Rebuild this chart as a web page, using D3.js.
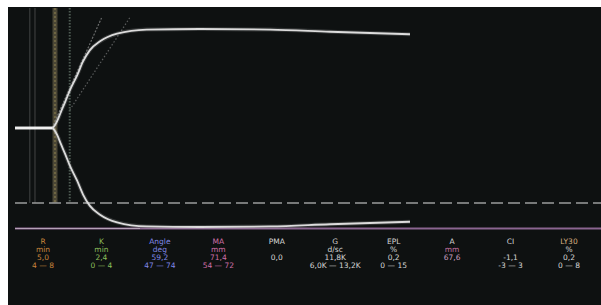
<!DOCTYPE html>
<html><head><meta charset="utf-8">
<script src="https://cdn.jsdelivr.net/npm/d3@7"></script>
<style>html,body{margin:0;padding:0;background:#fff;}svg{display:block;}</style>
</head><body>
<script>
// ---- data ----
const times = [0, 5.0, 5.7, 6.2, 6.8, 7.4, 8.4, 9.2, 10.1, 11.5, 13.8, 17.8, 25, 34.5, 42.6, 53.4]; // min
const amps  = [0, 0,   5,  11.5, 19, 27,  38,  48,  56,  62.5, 68,  71,  71.4, 71, 69.4, 67.6]; // mm
const markerTimes = [2.0, 2.7, 5.0, 7.4];
const markerKinds = ["grid", "grid", "R", "K"];
const tangentA = [[5.0, 0], [11.7, 79.4]];
const tangentB = [[7.4, 13], [15.5, 79.4]];
const columns = ["R", "K", "Angle", "MA", "PMA", "G", "EPL", "A", "CI", "LY30"];
const units   = ["min", "min", "deg", "mm", "", "d/sc", "%", "mm", "", "%"];
const values  = ["5,0", "2,4", "59,2", "71,4", "0,0", "11,8K", "0,2", "67,6", "-1,1", "0,2"];
const ranges  = ["4 — 8", "0 — 4", "47 — 74", "54 — 72", "", "6,0K — 13,2K", "0 — 15", "", "-3 — 3", "0 — 8"];

const W = 601, H = 305;
const svg = d3.select("body").append("svg").attr("width", W).attr("height", H);
svg.append("rect").attr("x", 8).attr("y", 7).attr("width", W - 8).attr("height", H - 7).attr("fill", "#0e1111");

const x = d3.scaleLinear().domain([0, 53.4]).range([15, 410]);
const yUp = d3.scaleLinear().domain([0, 71.4]).range([128, 29]);
const yDn = d3.scaleLinear().domain([0, 71.4]).range([128, 227]);

// vertical marker lines
const mk = markerTimes.map((t, i) => ({t, k: markerKinds[i]}));
const mg = svg.append("g");
mk.forEach(d => {
  const xx = x(d.t);
  if (d.k === "grid") {
    mg.append("line").attr("x1", xx).attr("x2", xx).attr("y1", 8).attr("y2", 203)
      .attr("stroke", "#3a3c3c").attr("stroke-width", 1.2);
  } else if (d.k === "R") {
    mg.append("line").attr("x1", xx + 3).attr("x2", xx + 3).attr("y1", 8).attr("y2", 203)
      .attr("stroke", "#4a4636").attr("stroke-width", 5);
    mg.append("line").attr("x1", xx + 3).attr("x2", xx + 3).attr("y1", 8).attr("y2", 203)
      .attr("stroke", "#7a7048").attr("stroke-width", 1.5).attr("stroke-dasharray", "2,2");
  } else {
    mg.append("line").attr("x1", xx).attr("x2", xx).attr("y1", 8).attr("y2", 203)
      .attr("stroke", "#4d5a52").attr("stroke-width", 2).attr("stroke-dasharray", "1.5,1.5");
  }
});

// dashed reference line
svg.append("line").attr("x1", 15).attr("x2", W).attr("y1", 203).attr("y2", 203)
  .attr("stroke", "#9a9c9c").attr("stroke-width", 1.5).attr("stroke-dasharray", "12,5");

// purple baseline
svg.append("line").attr("x1", 15).attr("x2", W).attr("y1", 228.5).attr("y2", 228.5)
  .attr("stroke", "#8a6590").attr("stroke-width", 2.2);
svg.append("line").attr("x1", 15).attr("x2", 140).attr("y1", 228.5).attr("y2", 228.5)
  .attr("stroke", "#c8bcc8").attr("stroke-width", 1.2).attr("opacity", 0.7);

// tangent dotted lines
const tl = d3.line().x(d => x(d[0])).y(d => yUp(d[1]));
svg.append("path").attr("d", tl(tangentA)).attr("fill", "none")
  .attr("stroke", "#6a6c6c").attr("stroke-width", 1.2).attr("stroke-dasharray", "2,1.5");
svg.append("path").attr("d", tl(tangentB)).attr("fill", "none")
  .attr("stroke", "#5a5c5c").attr("stroke-width", 1.2).attr("stroke-dasharray", "1.5,2");

// trace
const pts = times.map((t, i) => [t, amps[i]]);
const upper = d3.line().x(d => x(d[0])).y(d => yUp(d[1])).curve(d3.curveMonotoneX);
const lower = d3.line().x(d => x(d[0])).y(d => yDn(d[1])).curve(d3.curveMonotoneX);
[upper, lower].forEach(g => {
  svg.append("path").attr("d", g(pts)).attr("fill", "none")
    .attr("stroke", "#ffffff").attr("stroke-opacity", 0.15).attr("stroke-width", 4);
  svg.append("path").attr("d", g(pts)).attr("fill", "none")
    .attr("stroke", "#dcdcdc").attr("stroke-width", 1.8);
});
svg.append("path").attr("d", upper(pts.slice(0, 2))).attr("fill", "none")
  .attr("stroke", "#f0f0f0").attr("stroke-width", 2.6);

// parameter table
const colX = d3.scalePoint().domain(columns).range([43, 569]);
const palette = {R: "#c8843c", K: "#8cbf5c", Angle: "#8088e6", MA: "#d070a8"};
const rowsY = [242, 250, 258, 266];
const tg = svg.append("g").attr("font-family", "DejaVu Sans, sans-serif").attr("font-size", 7.5)
  .attr("text-anchor", "middle").attr("dominant-baseline", "middle");
columns.forEach((c, i) => {
  const base = palette[c] || "#d6d6d6";
  const cols = [base, base, base, base];
  if (c === "A") { cols[1] = "#c070a0"; cols[2] = "#c8a0c0"; }
  if (c === "LY30") { cols[0] = "#d8b080"; }
  [c, units[i], values[i], ranges[i]].forEach((s, r) => {
    if (!s) return;
    tg.append("text").attr("x", colX(c)).attr("y", rowsY[r]).attr("fill", cols[r]).text(s);
  });
});
</script>
</body></html>
